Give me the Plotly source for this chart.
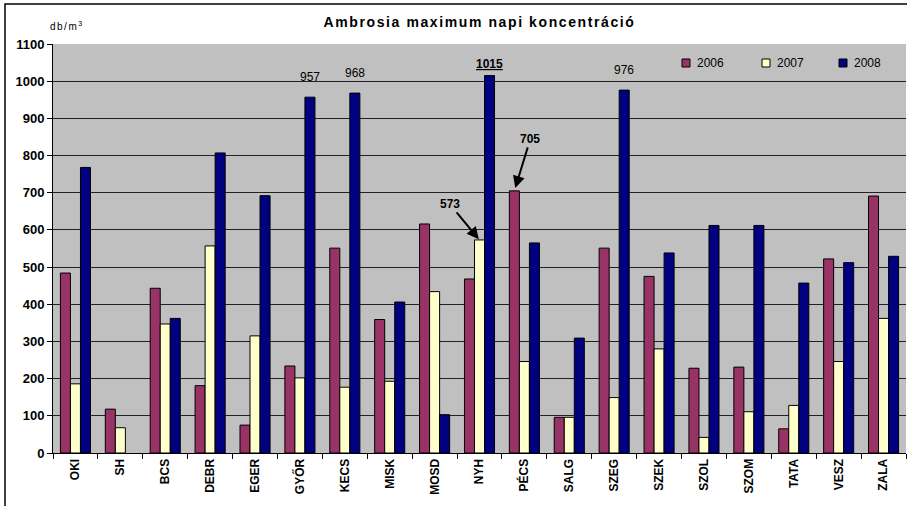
import plotly.graph_objects as go

categories = ["OKI", "SH", "BCS", "DEBR", "EGER", "GYŐR", "KECS", "MISK", "MOSD", "NYH",
              "PÉCS", "SALG", "SZEG", "SZEK", "SZOL", "SZOM", "TATA", "VESZ", "ZALA"]
v2006 = [484, 118, 443, 181, 75, 234, 551, 359, 616, 468, 705, 96, 551, 475, 228, 231, 65, 522, 691]
v2007 = [186, 68, 347, 557, 315, 202, 177, 193, 434, 573, 246, 96, 149, 280, 42, 111, 128, 246, 362]
v2008 = [768, None, 362, 807, 692, 957, 968, 406, 103, 1015, 565, 309, 976, 538, 612, 612, 457, 512, 529]
years = ["2006", "2007", "2008"]
colors = ["#993366", "#FFFFCC", "#000080"]
yticks = list(range(0, 1101, 100))

FONT = "Liberation Sans, Arial, sans-serif"

fig = go.Figure()
for name, vals, col in zip(years, [v2006, v2007, v2008], colors):
    fig.add_trace(go.Bar(
        x=categories, y=vals, name=name, showlegend=False,
        marker=dict(color=col, line=dict(color="#000000", width=1)),
    ))

W, H = 907, 506
L, R, T, B = 53, 1, 44, 53
pw, ph = W - L - R, H - T - B


def px(xp):
    return (xp - L) / pw


def py(yp):
    return (H - B - yp) / ph


fig.update_layout(
    width=W, height=H,
    margin=dict(l=L, r=R, t=T, b=B, pad=0),
    paper_bgcolor="#FFFFFF",
    plot_bgcolor="#C0C0C0",
    barmode="group",
    bargap=0.33,
    bargroupgap=0,
    font=dict(family=FONT, color="#000000", size=12),
    title=dict(text="<b><span style='letter-spacing:1.6px'>Ambrosia maximum napi koncentráció</span></b>",
               x=0.5, xref="paper", xanchor="center", y=1 - 22 / H, yanchor="middle",
               font=dict(family=FONT, size=14, color="#000000")),
    showlegend=False,
    xaxis=dict(
        type="category", tickangle=-90, showgrid=False,
        showline=True, linecolor="#000000", linewidth=1,
        ticks="outside", tickson="boundaries", ticklen=5, tickcolor="#000000",
        tickfont=dict(family=FONT, size=12, color="#000000", weight="bold"),
        range=[-0.5, len(categories) - 0.5],
    ),
    yaxis=dict(
        range=[0, 1100], tickvals=yticks, ticktext=[str(t) for t in yticks],
        showgrid=True, gridcolor="#222222", gridwidth=1,
        showline=True, linecolor="#000000", linewidth=1,
        ticks="outside", ticklen=5, tickcolor="#000000",
        tickfont=dict(family=FONT, size=13, color="#000000", weight="bold"),
        zeroline=False,
    ),
)

bw = (1 - 0.33) / 3

# manual legend (small squares + labels)
leg_x = [682, 762, 839]
for k, (name, col) in enumerate(zip(years, colors)):
    x0 = leg_x[k]
    fig.add_shape(type="rect", xref="paper", yref="paper",
                  x0=px(x0), x1=px(x0 + 8), y0=py(67), y1=py(59),
                  fillcolor=col, line=dict(color="#000000", width=1))
    fig.add_annotation(text=name, xref="paper", yref="paper", x=px(x0 + 13), y=py(63),
                       xanchor="left", yanchor="middle", showarrow=False,
                       font=dict(family=FONT, size=12))

# y-axis unit label
fig.add_annotation(text="<span style='letter-spacing:1.5px'>db/m<sup>3</sup></span>",
                   xref="paper", yref="paper",
                   x=px(48), y=py(26), showarrow=False,
                   font=dict(family=FONT, size=10), xanchor="left", yanchor="middle")

# value labels above 2008 bars
for cat in ["GYŐR", "KECS", "SZEG"]:
    i = categories.index(cat)
    fig.add_annotation(x=i + bw, y=v2008[i], xref="x", yref="y", text=str(v2008[i]),
                       showarrow=False, yanchor="bottom", yshift=11,
                       font=dict(family=FONT, size=12))
i = categories.index("NYH")
fig.add_annotation(x=i + bw, y=v2008[i], xref="x", yref="y",
                   text="<b><u>%d</u></b>" % v2008[i],
                   showarrow=False, yanchor="bottom", yshift=3,
                   font=dict(family=FONT, size=12))

# arrow callouts
fig.add_annotation(x=i, y=v2007[i], xref="x", yref="y", text="<b>%d</b>" % v2007[i],
                   showarrow=True, ax=-30, ay=-36, arrowhead=2, arrowsize=1.2,
                   arrowwidth=2, arrowcolor="#000000", standoff=1,
                   font=dict(family=FONT, size=12))
j = categories.index("PÉCS")
fig.add_annotation(x=j - bw, y=v2006[j], xref="x", yref="y", text="<b>%d</b>" % v2006[j],
                   showarrow=True, ax=16, ay=-52, arrowhead=2, arrowsize=1.2,
                   arrowwidth=2, arrowcolor="#000000", standoff=3,
                   font=dict(family=FONT, size=12))

# outer chart border (top and left)
fig.add_shape(type="rect", xref="paper", yref="paper",
              x0=px(5), x1=px(W + 5), y0=py(H + 5), y1=py(4),
              line=dict(color="#000000", width=1.5), fillcolor="rgba(0,0,0,0)", layer="below")

fig.write_html("out.html", config={"displayModeBar": False},
               post_script="document.body.style.margin='0';document.body.style.padding='0';")
